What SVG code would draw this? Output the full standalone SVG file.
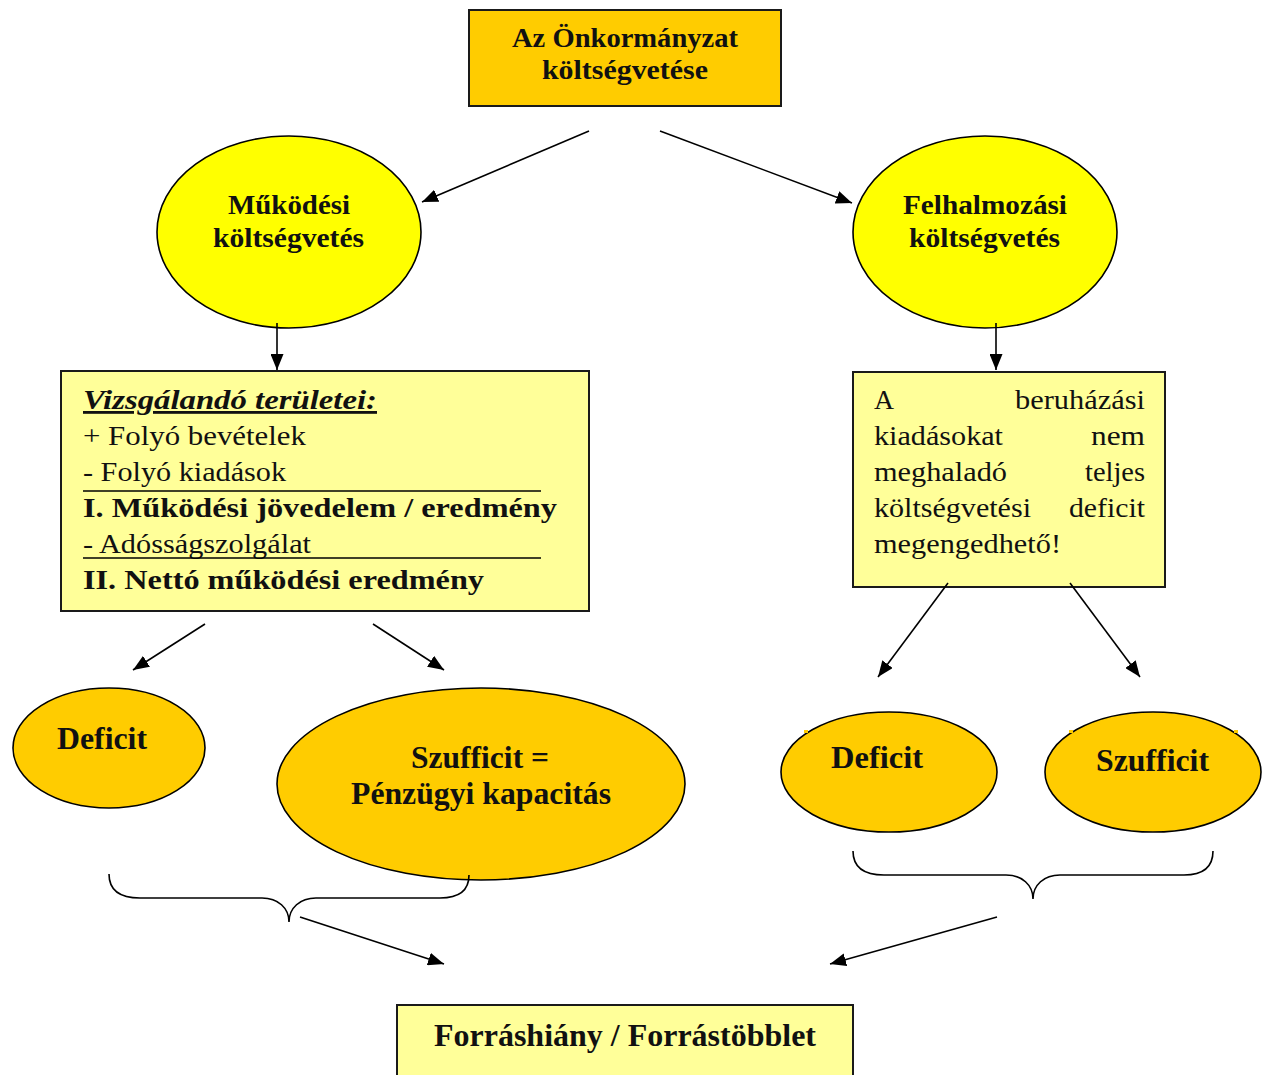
<svg xmlns="http://www.w3.org/2000/svg" width="1266" height="1075" viewBox="0 0 1266 1075">
  <style>
    .box { stroke: #1a1a1a; stroke-width: 2; }
    .ell { stroke: #000; stroke-width: 1.6; }
    .gold { fill: #FFCC00; }
    .yel { fill: #FFFF00; }
    .pale { fill: #FFFF99; }
    .t { font-family: "Liberation Serif", "Times New Roman", serif; fill: #111; }
    .b { font-weight: bold; }
    .conn line, .conn path { stroke: #000; stroke-width: 1.6; fill: none; }
    .conn line { marker-end: url(#ah); }
  </style>
  <defs>
    <marker id="ah" viewBox="0 0 16 13" refX="16" refY="6.5" markerWidth="16" markerHeight="13" markerUnits="userSpaceOnUse" orient="auto">
      <path d="M0,0 L16,6.5 L0,13 z" fill="#000"/>
    </marker>
  </defs>

  <rect width="1266" height="1075" fill="#fff"/>

  <!-- top: overall budget -->
  <g id="onkormanyzat">
    <rect class="box gold" x="469" y="10" width="312" height="96"/>
    <text class="t b" x="512" y="47" font-size="28" textLength="226" lengthAdjust="spacingAndGlyphs">Az Önkormányzat</text>
    <text class="t b" x="542" y="79" font-size="28" textLength="166" lengthAdjust="spacingAndGlyphs">költségvetése</text>
  </g>

  <!-- operating budget -->
  <g id="mukodesi">
    <ellipse class="ell yel" cx="289" cy="232" rx="132" ry="96"/>
    <text class="t b" x="228" y="214" font-size="27" textLength="122" lengthAdjust="spacingAndGlyphs">Működési</text>
    <text class="t b" x="213" y="247" font-size="27" textLength="151" lengthAdjust="spacingAndGlyphs">költségvetés</text>
  </g>

  <!-- capital budget -->
  <g id="felhalmozasi">
    <ellipse class="ell yel" cx="985" cy="232" rx="132" ry="96"/>
    <text class="t b" x="903" y="214" font-size="27" textLength="164" lengthAdjust="spacingAndGlyphs">Felhalmozási</text>
    <text class="t b" x="909" y="247" font-size="27" textLength="151" lengthAdjust="spacingAndGlyphs">költségvetés</text>
  </g>

  <!-- operating budget breakdown -->
  <g id="vizsgalando">
    <rect class="box pale" x="61" y="371" width="528" height="240"/>
    <text class="t b" x="83" y="409" font-size="28" font-style="italic" text-decoration="underline" textLength="294" lengthAdjust="spacingAndGlyphs">Vizsgálandó területei:</text>
    <text class="t" x="83" y="445" font-size="28" textLength="223" lengthAdjust="spacingAndGlyphs">+ Folyó bevételek</text>
    <text class="t" x="83" y="481" font-size="28" textLength="203" lengthAdjust="spacingAndGlyphs">- Folyó kiadások</text>
    <line x1="83" y1="491" x2="541" y2="491" stroke="#000" stroke-width="1.6"/>
    <text class="t b" x="83" y="517" font-size="28" textLength="474" lengthAdjust="spacingAndGlyphs">I. Működési jövedelem / eredmény</text>
    <text class="t" x="83" y="553" font-size="28" textLength="228" lengthAdjust="spacingAndGlyphs">- Adósságszolgálat</text>
    <line x1="83" y1="558" x2="541" y2="558" stroke="#000" stroke-width="1.6"/>
    <text class="t b" x="83" y="589" font-size="28" textLength="401" lengthAdjust="spacingAndGlyphs">II. Nettó működési eredmény</text>
  </g>

  <!-- capital budget rule -->
  <g id="beruhazasi">
    <rect class="box pale" x="853" y="372" width="312" height="215"/>
    <text class="t" x="874" y="409" font-size="28" textLength="20" lengthAdjust="spacingAndGlyphs">A</text>
    <text class="t" x="1015" y="409" font-size="28" textLength="130" lengthAdjust="spacingAndGlyphs">beruházási</text>
    <text class="t" x="874" y="445" font-size="28" textLength="129" lengthAdjust="spacingAndGlyphs">kiadásokat</text>
    <text class="t" x="1091" y="445" font-size="28" textLength="54" lengthAdjust="spacingAndGlyphs">nem</text>
    <text class="t" x="874" y="481" font-size="28" textLength="133" lengthAdjust="spacingAndGlyphs">meghaladó</text>
    <text class="t" x="1085" y="481" font-size="28" textLength="60" lengthAdjust="spacingAndGlyphs">teljes</text>
    <text class="t" x="874" y="517" font-size="28" textLength="157" lengthAdjust="spacingAndGlyphs">költségvetési</text>
    <text class="t" x="1069" y="517" font-size="28" textLength="76" lengthAdjust="spacingAndGlyphs">deficit</text>
    <text class="t" x="874" y="553" font-size="28" textLength="187" lengthAdjust="spacingAndGlyphs">megengedhető!</text>
  </g>

  <!-- operating outcomes -->
  <g id="deficit-bal">
    <ellipse class="ell gold" cx="109" cy="748" rx="96" ry="60"/>
    <text class="t b" x="57" y="749" font-size="32" textLength="90" lengthAdjust="spacingAndGlyphs">Deficit</text>
  </g>
  <g id="szufficit-bal">
    <ellipse class="ell gold" cx="481" cy="784" rx="204" ry="96"/>
    <text class="t b" x="411" y="768" font-size="32" textLength="138" lengthAdjust="spacingAndGlyphs">Szufficit =</text>
    <text class="t b" x="351" y="804" font-size="32" textLength="260" lengthAdjust="spacingAndGlyphs">Pénzügyi kapacitás</text>
  </g>

  <!-- capital outcomes -->
  <g id="deficit-jobb">
    <ellipse class="ell gold" cx="889" cy="772" rx="108" ry="60"/>
    <rect x="804" y="730" width="4" height="3" fill="#FFCC00"/>
    <text class="t b" x="831" y="768" font-size="32" textLength="92" lengthAdjust="spacingAndGlyphs">Deficit</text>
  </g>
  <g id="szufficit-jobb">
    <ellipse class="ell gold" cx="1153" cy="772" rx="108" ry="60"/>
    <rect x="1069" y="730" width="4" height="3" fill="#FFCC00"/>
    <rect x="1234" y="730" width="4" height="3" fill="#FFCC00"/>
    <text class="t b" x="1096" y="771" font-size="32" textLength="113" lengthAdjust="spacingAndGlyphs">Szufficit</text>
  </g>

  <!-- result -->
  <g id="forras">
    <rect class="box pale" x="397" y="1005" width="456" height="80"/>
    <text class="t b" x="434" y="1046" font-size="32" textLength="382" lengthAdjust="spacingAndGlyphs">Forráshiány / Forrástöbblet</text>
  </g>

  <g id="connectors" class="conn">
    <line x1="589" y1="131" x2="422" y2="202"/>
    <line x1="660" y1="131" x2="852" y2="203"/>
    <line x1="277" y1="323" x2="277" y2="370"/>
    <line x1="996" y1="323" x2="996" y2="370"/>
    <line x1="205" y1="624" x2="133" y2="670"/>
    <line x1="373" y1="624" x2="444" y2="670"/>
    <line x1="948" y1="583" x2="878" y2="677"/>
    <line x1="1070" y1="583" x2="1140" y2="677"/>
    <!-- braces -->
    <path d="M109,874 C109,890 120,898 140,898 L262,898 C278,898 289,908 289,922 C289,908 300,898 316,898 L440,898 C460,898 469,890 469,875"/>
    <path d="M853,851 C853,867 864,875 884,875 L1006,875 C1022,875 1033,885 1033,899 C1033,885 1044,875 1060,875 L1184,875 C1204,875 1213,867 1213,851"/>
    <line x1="300" y1="917" x2="444" y2="964"/>
    <line x1="997" y1="917" x2="830" y2="964"/>
  </g>
</svg>
